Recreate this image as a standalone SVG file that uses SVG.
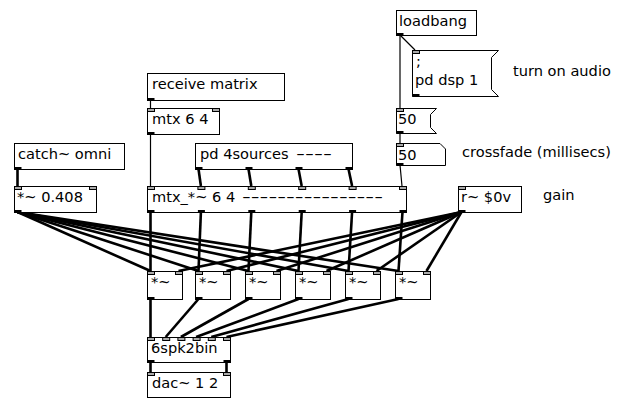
<svg xmlns="http://www.w3.org/2000/svg" width="623" height="398" viewBox="0 0 623 398">
<style>
.b{fill:#fff;stroke:#000;stroke-width:1}
.t{font-family:"DejaVu Sans","Liberation Sans",Arial,sans-serif;font-size:14.6px;fill:#000}
.in{fill:#aaa;stroke:#000;stroke-width:1}
.out{fill:#000}
.sig{stroke:#000;stroke-width:2.6;fill:none}
.ctl{stroke:#000;stroke-width:1.2;fill:none}
</style>
<rect width="623" height="398" fill="#fff"/>
<g id="connectors">
<line class="ctl" x1="400" y1="35" x2="415" y2="50"/>
<line class="ctl" x1="400" y1="35" x2="400" y2="108"/>
<line class="ctl" x1="400" y1="133" x2="400" y2="143"/>
<line class="ctl" x1="400" y1="165" x2="402" y2="186"/>
<line class="ctl" x1="150.5" y1="100" x2="150.5" y2="108"/>
<line class="ctl" x1="150.5" y1="134" x2="150.5" y2="186"/>
<line class="sig" x1="17.5" y1="169" x2="17.5" y2="186"/>
<line class="sig" x1="198.5" y1="169" x2="200.9" y2="186"/>
<line class="sig" x1="248.5" y1="169" x2="251.3" y2="186"/>
<line class="sig" x1="298.5" y1="169" x2="301.7" y2="186"/>
<line class="sig" x1="348.5" y1="169" x2="352.1" y2="186"/>
<line class="sig" x1="150.5" y1="212" x2="150.5" y2="271"/>
<line class="sig" x1="200.9" y1="212" x2="198.5" y2="271"/>
<line class="sig" x1="251.3" y1="212" x2="248.5" y2="271"/>
<line class="sig" x1="301.7" y1="212" x2="298.5" y2="271"/>
<line class="sig" x1="352.1" y1="212" x2="348.5" y2="271"/>
<line class="sig" x1="402.5" y1="212" x2="398.5" y2="271"/>
<line class="sig" x1="17.5" y1="212" x2="150.5" y2="271"/>
<line class="sig" x1="17.5" y1="212" x2="198.5" y2="271"/>
<line class="sig" x1="17.5" y1="212" x2="248.5" y2="271"/>
<line class="sig" x1="17.5" y1="212" x2="298.5" y2="271"/>
<line class="sig" x1="17.5" y1="212" x2="348.5" y2="271"/>
<line class="sig" x1="17.5" y1="212" x2="398.5" y2="271"/>
<line class="sig" x1="461.5" y1="212" x2="178.5" y2="271"/>
<line class="sig" x1="461.5" y1="212" x2="226.5" y2="271"/>
<line class="sig" x1="461.5" y1="212" x2="276.5" y2="271"/>
<line class="sig" x1="461.5" y1="212" x2="326.5" y2="271"/>
<line class="sig" x1="461.5" y1="212" x2="376.5" y2="271"/>
<line class="sig" x1="461.5" y1="212" x2="426.5" y2="271"/>
<line class="sig" x1="150.5" y1="299" x2="150.5" y2="337"/>
<line class="sig" x1="198.5" y1="299" x2="165.7" y2="337"/>
<line class="sig" x1="248.5" y1="299" x2="180.9" y2="337"/>
<line class="sig" x1="298.5" y1="299" x2="196.1" y2="337"/>
<line class="sig" x1="348.5" y1="299" x2="211.3" y2="337"/>
<line class="sig" x1="398.5" y1="299" x2="226.5" y2="337"/>
<line class="sig" x1="150.5" y1="362" x2="150.5" y2="372"/>
<line class="sig" x1="226.5" y1="362" x2="226.5" y2="372"/>
</g>
<g id="loadbang">
<rect class="b" x="396.5" y="10.5" width="80" height="25"/>
<rect class="out" x="396.5" y="33" width="7" height="3"/>
<text class="t" x="399" y="26">loadbang</text>
</g>
<g id="msg-dsp">
<path class="b" d="M412.5,50.5 H498.5 L491.5,57.5 V89.5 L498.5,96.5 H412.5 Z"/>
<rect class="in" x="412.5" y="50.5" width="7" height="3"/>
<rect class="out" x="412.5" y="94" width="7" height="3"/>
<text class="t" x="416" y="66">;</text>
<text class="t" x="415" y="85">pd dsp 1</text>
</g>
<g id="comment-audio"><text class="t" x="513" y="76">turn on audio</text></g>
<g id="msg-50">
<path class="b" d="M396.5,108.5 H436.5 L430.5,114.5 V127.5 L436.5,133.5 H396.5 Z"/>
<rect class="in" x="396.5" y="108.5" width="7" height="3"/>
<rect class="out" x="396.5" y="131" width="7" height="3"/>
<text class="t" x="398" y="124">50</text>
</g>
<g id="num-50">
<path class="b" d="M396.5,143.5 H440 L445.5,149 V165.5 H396.5 Z"/>
<rect class="in" x="396.5" y="143.5" width="7" height="3"/>
<rect class="out" x="396.5" y="163" width="7" height="3"/>
<text class="t" x="398" y="160">50</text>
</g>
<g id="comment-crossfade"><text class="t" x="462" y="157">crossfade (millisecs)</text></g>
<g id="receive-matrix">
<rect class="b" x="147.5" y="73.5" width="137" height="27"/>
<rect class="out" x="147.5" y="98" width="7" height="3"/>
<text class="t" x="152" y="89">receive matrix</text>
</g>
<g id="mtx">
<rect class="b" x="147.5" y="108.5" width="72" height="26"/>
<rect class="in" x="147.5" y="108.5" width="7" height="3"/>
<rect class="in" x="212.5" y="108.5" width="7" height="3"/>
<rect class="out" x="147.5" y="132" width="7" height="3"/>
<text class="t" x="152" y="124">mtx 6 4</text>
</g>
<g id="pd-4sources">
<rect class="b" x="195.5" y="143.5" width="157" height="26"/>
<rect class="out" x="195.5" y="167" width="7" height="3"/>
<rect class="out" x="245.5" y="167" width="7" height="3"/>
<rect class="out" x="295.5" y="167" width="7" height="3"/>
<rect class="out" x="345.5" y="167" width="7" height="3"/>
<text class="t" x="200" y="159">pd 4sources <tspan x="296" textLength="36" lengthAdjust="spacingAndGlyphs">----</tspan></text>
</g>
<g id="mtx-mul">
<rect class="b" x="147.5" y="186.5" width="259" height="26"/>
<rect class="in" x="147.5" y="186.5" width="7" height="3"/>
<rect class="in" x="197.9" y="186.5" width="7" height="3"/>
<rect class="in" x="248.3" y="186.5" width="7" height="3"/>
<rect class="in" x="298.7" y="186.5" width="7" height="3"/>
<rect class="in" x="349.1" y="186.5" width="7" height="3"/>
<rect class="in" x="399.5" y="186.5" width="7" height="3"/>
<rect class="out" x="147.5" y="210" width="7" height="3"/>
<rect class="out" x="197.9" y="210" width="7" height="3"/>
<rect class="out" x="248.3" y="210" width="7" height="3"/>
<rect class="out" x="298.7" y="210" width="7" height="3"/>
<rect class="out" x="349.1" y="210" width="7" height="3"/>
<rect class="out" x="399.5" y="210" width="7" height="3"/>
<text class="t" x="152" y="202">mtx_*~ 6 4 <tspan x="242" textLength="141" lengthAdjust="spacingAndGlyphs">----------------</tspan></text>
</g>
<g id="catch-omni">
<rect class="b" x="14.5" y="143.5" width="110" height="26"/>
<rect class="out" x="14.5" y="167" width="7" height="3"/>
<text class="t" x="18" y="159">catch~ omni</text>
</g>
<g id="mul-0408">
<rect class="b" x="14.5" y="186.5" width="82" height="26"/>
<rect class="in" x="14.5" y="186.5" width="7" height="3"/>
<rect class="in" x="89.5" y="186.5" width="7" height="3"/>
<rect class="out" x="14.5" y="210" width="7" height="3"/>
<text class="t" x="17" y="202">*~ 0.408</text>
</g>
<g id="r-gain">
<rect class="b" x="458.5" y="186.5" width="63" height="26"/>
<rect class="in" x="458.5" y="186.5" width="7" height="3"/>
<rect class="out" x="458.5" y="210" width="7" height="3"/>
<text class="t" x="461" y="202">r~ $0v</text>
</g>
<g id="comment-gain"><text class="t" x="543" y="200">gain</text></g>
<g id="mul1">
<rect class="b" x="147.5" y="271.5" width="35" height="28"/>
<rect class="in" x="147.5" y="271.5" width="7" height="3"/>
<rect class="in" x="175.5" y="271.5" width="7" height="3"/>
<rect class="out" x="147.5" y="297" width="7" height="3"/>
<text class="t" x="151" y="287">*~</text>
</g>
<g id="mul2">
<rect class="b" x="195.5" y="271.5" width="35" height="28"/>
<rect class="in" x="195.5" y="271.5" width="7" height="3"/>
<rect class="in" x="223.5" y="271.5" width="7" height="3"/>
<rect class="out" x="195.5" y="297" width="7" height="3"/>
<text class="t" x="199" y="287">*~</text>
</g>
<g id="mul3">
<rect class="b" x="245.5" y="271.5" width="35" height="28"/>
<rect class="in" x="245.5" y="271.5" width="7" height="3"/>
<rect class="in" x="273.5" y="271.5" width="7" height="3"/>
<rect class="out" x="245.5" y="297" width="7" height="3"/>
<text class="t" x="249" y="287">*~</text>
</g>
<g id="mul4">
<rect class="b" x="295.5" y="271.5" width="35" height="28"/>
<rect class="in" x="295.5" y="271.5" width="7" height="3"/>
<rect class="in" x="323.5" y="271.5" width="7" height="3"/>
<rect class="out" x="295.5" y="297" width="7" height="3"/>
<text class="t" x="299" y="287">*~</text>
</g>
<g id="mul5">
<rect class="b" x="345.5" y="271.5" width="35" height="28"/>
<rect class="in" x="345.5" y="271.5" width="7" height="3"/>
<rect class="in" x="373.5" y="271.5" width="7" height="3"/>
<rect class="out" x="345.5" y="297" width="7" height="3"/>
<text class="t" x="349" y="287">*~</text>
</g>
<g id="mul6">
<rect class="b" x="395.5" y="271.5" width="35" height="28"/>
<rect class="in" x="395.5" y="271.5" width="7" height="3"/>
<rect class="in" x="423.5" y="271.5" width="7" height="3"/>
<rect class="out" x="395.5" y="297" width="7" height="3"/>
<text class="t" x="399" y="287">*~</text>
</g>
<g id="spk2bin">
<rect class="b" x="147.5" y="337.5" width="83" height="25"/>
<rect class="in" x="147.5" y="337.5" width="7" height="3"/>
<rect class="in" x="162.7" y="337.5" width="7" height="3"/>
<rect class="in" x="177.9" y="337.5" width="7" height="3"/>
<rect class="in" x="193.1" y="337.5" width="7" height="3"/>
<rect class="in" x="208.3" y="337.5" width="7" height="3"/>
<rect class="in" x="223.5" y="337.5" width="7" height="3"/>
<rect class="out" x="147.5" y="360" width="7" height="3"/>
<rect class="out" x="223.5" y="360" width="7" height="3"/>
<text class="t" x="151" y="353">6spk2bin</text>
</g>
<g id="dac">
<rect class="b" x="147.5" y="372.5" width="83" height="25"/>
<rect class="in" x="147.5" y="372.5" width="7" height="3"/>
<rect class="in" x="223.5" y="372.5" width="7" height="3"/>
<text class="t" x="152" y="388">dac~ 1 2</text>
</g>
</svg>
